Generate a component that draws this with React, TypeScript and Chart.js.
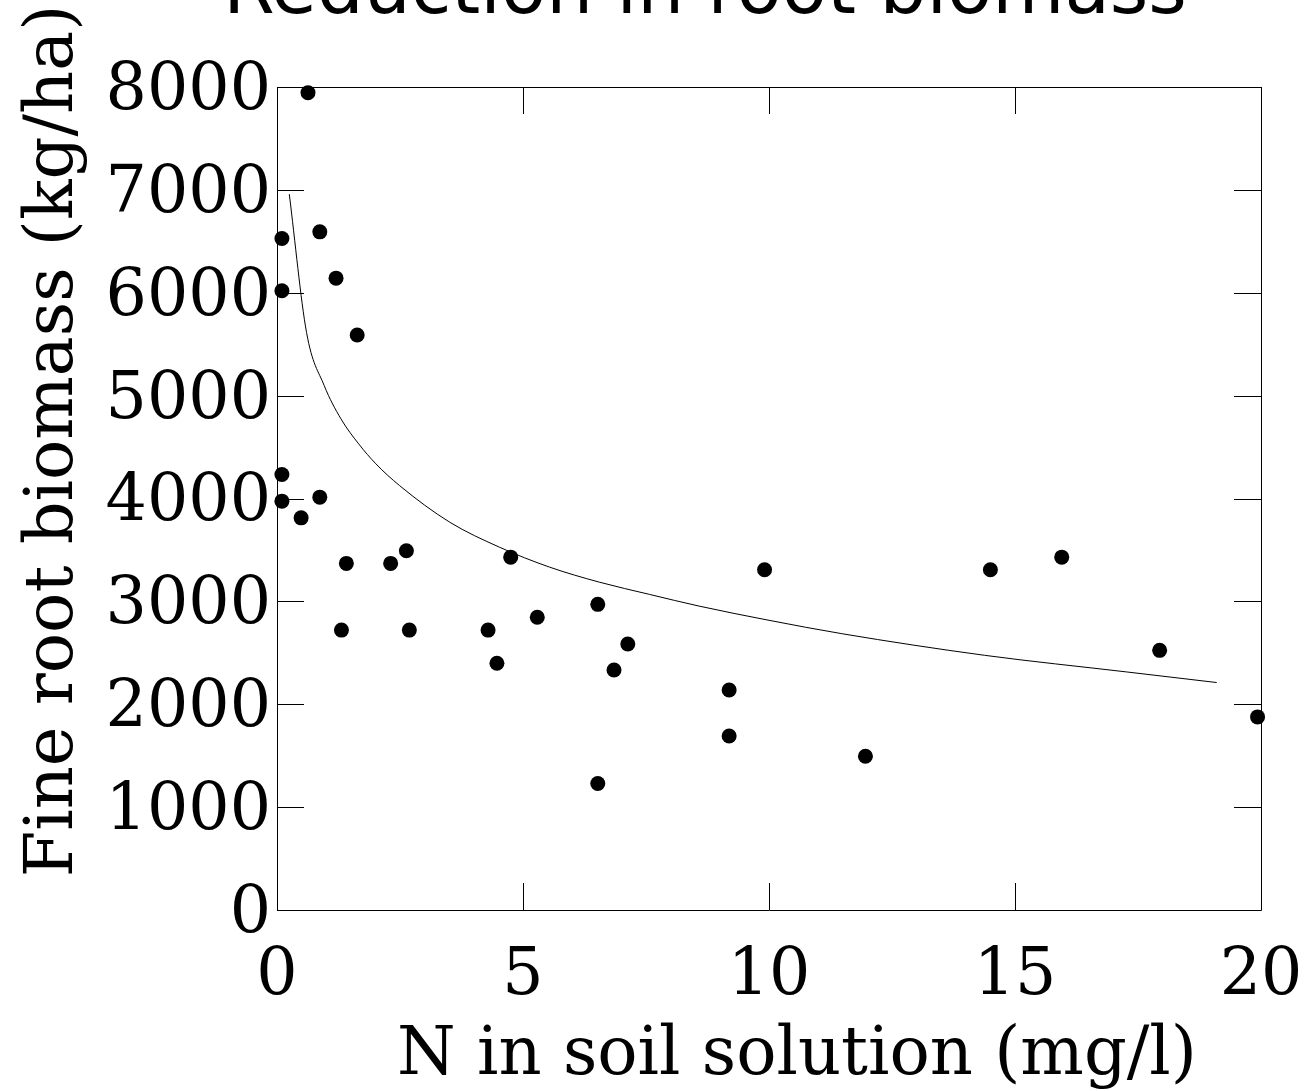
import React, { useEffect, useRef } from "react";
import { Chart, registerables } from "chart.js";

Chart.register(...registerables);

const chartTitle = "Reduction in root biomass";
const xAxisTitle = "N in soil solution (mg/l)";
const yAxisTitle = "Fine root biomass (kg/ha)";

const xTickValues = [0, 5, 10, 15, 20];
const yTickValues = [0, 1000, 2000, 3000, 4000, 5000, 6000, 7000, 8000];

// Observed data points (N mg/l, fine root biomass kg/ha)
const obsN = [0.63, 0.1, 0.87, 0.1, 1.2, 1.63, 0.1, 0.1, 0.87, 0.49, 1.41, 2.31, 2.63, 1.31, 2.69, 4.75, 4.29, 5.29, 4.47, 6.52, 7.13, 6.85, 6.52, 9.91, 9.19, 9.19, 11.96, 14.5, 15.95, 17.94, 19.93];
const obsBiomass = [7945, 6527, 6592, 6019, 6142, 5589, 4233, 3974, 4013, 3812, 3369, 3369, 3492, 2721, 2721, 3430, 2721, 2845, 2398, 2971, 2585, 2333, 1230, 3307, 2139, 1692, 1495, 3307, 3430, 2524, 1877];

// Fitted curve
const fitN = [0.25, 0.6, 0.96, 1.3, 1.66, 2.01, 2.49, 3.51, 4.52, 5.54, 6.55, 7.57, 8.58, 10, 11.48, 14.38, 17.27, 19.1];
const fitBiomass = [6958, 5615, 5097, 4774, 4531, 4337, 4126, 3770, 3527, 3333, 3187, 3068, 2954, 2816, 2686, 2476, 2314, 2211];

const serif = '"DejaVu Serif", serif';

const framePlugin = {
  id: "frameAndTitles",
  afterDraw(chart: any) {
    const { ctx, chartArea } = chart;
    const { left, right, top, bottom } = chartArea;
    const xs = chart.scales.x;
    const ys = chart.scales.y;
    const tl = 27;
    ctx.save();
    ctx.strokeStyle = "#000";
    ctx.lineWidth = 1;
    ctx.beginPath();
    ctx.rect(Math.round(left) + 0.5, Math.round(top) + 0.5, Math.round(right - left), Math.round(bottom - top));
    ctx.stroke();
    ctx.beginPath();
    xTickValues.forEach((v) => {
      const px = Math.round(xs.getPixelForValue(v)) + 0.5;
      ctx.moveTo(px, bottom);
      ctx.lineTo(px, bottom - tl);
      ctx.moveTo(px, top);
      ctx.lineTo(px, top + tl);
    });
    yTickValues.forEach((v) => {
      const py = Math.round(ys.getPixelForValue(v)) + 0.5;
      ctx.moveTo(left, py);
      ctx.lineTo(left + tl, py);
      ctx.moveTo(right, py);
      ctx.lineTo(right - tl, py);
    });
    ctx.stroke();

    ctx.fillStyle = "#000";
    // chart title (partially cut off at top, as in the reference)
    ctx.font = 'normal 74px "DejaVu Sans", sans-serif';
    ctx.textAlign = "center";
    ctx.textBaseline = "alphabetic";
    ctx.fillText(chartTitle, 705, 13);

    // x axis title
    ctx.font = "normal 67px " + serif;
    ctx.fillText(xAxisTitle, 797, 1074);

    // y axis title
    ctx.translate(72, 441);
    ctx.rotate(-Math.PI / 2);
    ctx.fillText(yAxisTitle, 0, 0);
    ctx.restore();
  },
};

export default function App() {
  const ref = useRef<HTMLCanvasElement | null>(null);
  useEffect(() => {
    if (!ref.current) return;
    const chart = new Chart(ref.current, {
      type: "scatter",
      data: {
        datasets: [
          {
            type: "line",
            label: "fit",
            data: fitN.map((x, i) => ({ x, y: fitBiomass[i] })),
            borderColor: "#000",
            borderWidth: 1,
            pointRadius: 0,
            cubicInterpolationMode: "monotone",
            fill: false,
          } as any,
          {
            type: "scatter",
            label: "observed",
            data: obsN.map((x, i) => ({ x, y: obsBiomass[i] })),
            backgroundColor: "#000",
            borderWidth: 0,
            pointRadius: 7.5,
            pointHoverRadius: 7.5,
            clip: false,
          } as any,
        ],
      },
      options: {
        animation: false,
        responsive: false,
        maintainAspectRatio: false,
        events: [],
        layout: { padding: { top: 87, right: 49, left: 0, bottom: 0 } },
        plugins: {
          legend: { display: false },
          title: { display: false },
          tooltip: { enabled: false },
        },
        scales: {
          x: {
            type: "linear",
            min: 0,
            max: 20,
            afterFit: (s: any) => {
              s.height = 181;
              s.paddingLeft = 0;
              s.paddingRight = 0;
            },
            grid: { display: false, drawTicks: false },
            border: { display: false },
            ticks: {
              stepSize: 5,
              autoSkip: false,
              maxRotation: 0,
              padding: 28,
              color: "#000",
              font: { family: serif, size: 65 },
              callback: (v: any) => String(v),
            },
          },
          y: {
            type: "linear",
            min: 0,
            max: 8000,
            afterFit: (s: any) => {
              s.width = 277;
              s.paddingTop = 0;
              s.paddingBottom = 0;
            },
            grid: { display: false, drawTicks: false },
            border: { display: false },
            ticks: {
              stepSize: 1000,
              autoSkip: false,
              padding: 6,
              labelOffset: 5,
              color: "#000",
              font: { family: serif, size: 65 },
              callback: (v: any) => String(v),
            },
          },
        },
      },
      plugins: [framePlugin],
    });
    return () => chart.destroy();
  }, []);
  return (
    <div style={{ position: "fixed", left: 0, top: 0, width: 1310, height: 1091, background: "#fff" }}>
      <canvas ref={ref} width={1310} height={1091} style={{ width: 1310, height: 1091, display: "block" }} />
    </div>
  );
}
